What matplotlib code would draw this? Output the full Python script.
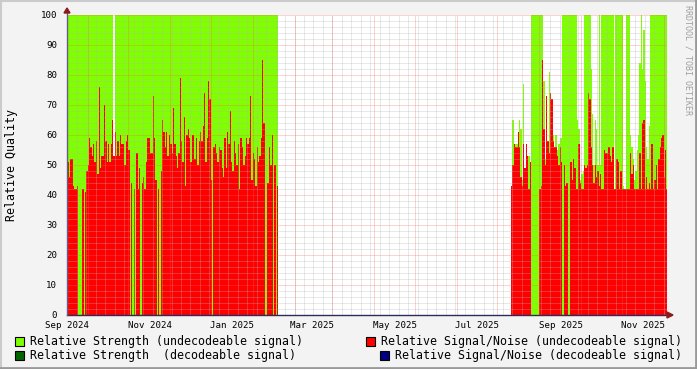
import datetime as dt
import numpy as np
import matplotlib
matplotlib.use("Agg")
import matplotlib.pyplot as plt
import matplotlib.dates as mdates
from matplotlib.patches import Rectangle, Polygon

# daily values, first block starts 2024-09-01
seg1_start = dt.datetime(2024, 9, 1)
seg1_snr = [
    51, 46, 52, 52, 43, 42, 42, 43, 0, 0, 0, 42, 0, 41, 48, 50, 59, 56, 53, 57,
    51, 58, 47, 76, 49, 53, 53, 70, 58, 51, 57, 51, 57, 65, 53, 61, 53, 58, 53, 60,
    57, 57, 50, 58, 60, 55, 0, 44, 0, 42, 0, 54, 42, 49, 0, 44, 46, 42, 51, 59,
    59, 54, 54, 73, 59, 45, 0, 42, 0, 48, 65, 61, 56, 61, 53, 60, 57, 54, 69, 57,
    53, 49, 54, 79, 58, 51, 66, 43, 60, 62, 59, 51, 60, 60, 52, 59, 50, 58, 61, 58,
    63, 74, 51, 59, 78, 72, 45, 0, 56, 57, 54, 51, 56, 55, 49, 46, 59, 49, 61, 57,
    68, 51, 48, 58, 54, 50, 57, 42, 59, 56, 50, 53, 59, 57, 59, 73, 45, 54, 52, 43,
    56, 51, 53, 59, 85, 64, 0, 0, 44, 56, 50, 60, 0, 50, 0, 43,
]
seg1_strength = [
    100, 100, 100, 100, 100, 100, 100, 100, 100, 100, 100, 100, 100, 100, 100, 100, 100, 100, 100, 100,
    100, 100, 100, 100, 100, 100, 100, 100, 100, 100, 100, 100, 100, 100, 0, 100, 100, 100, 100, 100,
    100, 100, 100, 100, 100, 100, 100, 100, 100, 100, 100, 100, 100, 100, 100, 100, 100, 100, 100, 100,
    100, 100, 100, 100, 100, 100, 100, 100, 100, 100, 100, 100, 100, 100, 100, 100, 100, 100, 100, 100,
    100, 100, 100, 100, 100, 100, 100, 100, 100, 100, 100, 100, 100, 100, 100, 100, 100, 100, 100, 100,
    100, 100, 100, 100, 100, 100, 100, 100, 100, 100, 100, 100, 100, 100, 100, 100, 100, 100, 100, 100,
    100, 100, 100, 100, 100, 100, 100, 100, 100, 100, 100, 100, 100, 100, 100, 100, 100, 100, 100, 100,
    100, 100, 100, 100, 100, 100, 100, 100, 100, 100, 100, 100, 100, 100, 100, 100,
]

# second block starts 2025-07-26
seg2_start = dt.datetime(2025, 7, 26)
seg2_snr = [
    43, 50, 57, 56, 56, 61, 56, 46, 43, 57,
    49, 57, 53, 42, 51, 0, 0, 0, 0, 0,
    0, 42, 43, 85, 62, 50, 73, 58, 54, 74,
    72, 58, 56, 56, 53, 50, 56, 51, 0, 50,
    43, 44, 0, 0, 51, 45, 52, 49, 42, 42,
    57, 44, 42, 42, 50, 49, 50, 74, 72, 56,
    50, 44, 50, 46, 48, 43, 47, 42, 42, 55,
    54, 54, 56, 53, 51, 56, 42, 42, 52, 51,
    42, 48, 42, 42, 42, 42, 42, 42, 54, 47,
    50, 42, 42, 42, 42, 54, 42, 64, 65, 42,
    46, 42, 44, 42, 57, 42, 45, 50, 42, 52,
    56, 59, 60, 46, 55, 42,
]
seg2_strength = [
    43, 65, 57, 57, 57, 61, 65, 62, 45, 77,
    49, 57, 53, 53, 51, 100, 100, 100, 100, 100,
    100, 100, 100, 100, 78, 52, 73, 58, 81, 74,
    72, 60, 56, 60, 55, 57, 59, 59, 100, 100,
    100, 100, 100, 100, 100, 100, 100, 100, 100, 65,
    62, 45, 47, 48, 100, 100, 100, 100, 100, 82,
    67, 50, 65, 62, 50, 100, 50, 100, 100, 100,
    100, 100, 100, 100, 100, 100, 42, 100, 100, 100,
    100, 100, 100, 43, 42, 100, 100, 100, 60, 56,
    52, 45, 48, 55, 60, 84, 100, 82, 95, 78,
    56, 52, 63, 100, 100, 100, 100, 100, 100, 100,
    100, 100, 100, 100, 100, 100,
]

tick_dates = [dt.datetime(2024, 9, 1), dt.datetime(2024, 11, 1), dt.datetime(2025, 1, 1),
              dt.datetime(2025, 3, 1), dt.datetime(2025, 5, 1), dt.datetime(2025, 7, 1),
              dt.datetime(2025, 9, 1), dt.datetime(2025, 11, 1)]

legend_items = [
    ("Relative Strength (undecodeable signal)", "#7FFF00", 15, 341),
    ("Relative Signal/Noise (undecodeable signal)", "#FF0000", 366, 341),
    ("Relative Strength  (decodeable signal)", "#006400", 15, 355),
    ("Relative Signal/Noise (decodeable signal)", "#000080", 380, 355),
]

plt.rcParams['font.family'] = 'DejaVu Sans Mono'
W, H = 697, 369

fig = plt.figure(figsize=(W / 100, H / 100), dpi=100, facecolor='#F3F3F3')
ax = fig.add_axes([67 / W, (H - 315) / H, 600 / W, 300 / H])
ax.set_facecolor('white')

for start, strength, snr in [(seg1_start, seg1_strength, seg1_snr),
                             (seg2_start, seg2_strength, seg2_snr)]:
    edges = mdates.date2num(start) + np.arange(len(snr) + 1)
    ax.stairs(strength, edges, fill=True, color='#7FFF00', linewidth=0, zorder=1)
    ax.stairs(snr, edges, fill=True, color='#FF0000', linewidth=0, zorder=1.1)

x0 = mdates.date2num(seg1_start) - 0.3
x1 = x0 + 443.8
ax.set_xlim(x0, x1)
ax.set_ylim(0, 100)

# grid (drawn over the data, like rrdtool)
dots = (0, (1, 1))
minor_c = (0.7, 0.7, 0.7, 0.6)
major_c = (1, 0.36, 0.36, 0.55)
for v in range(2, 101, 2):
    ax.axhline(v, color=major_c if v % 10 == 0 else minor_c, lw=0.72, ls=dots, zorder=2)
wk = mdates.date2num(dt.datetime(2024, 9, 8))
while wk < x1:
    ax.axvline(wk, color=minor_c, lw=0.72, ls=dots, zorder=2)
    wk += 7
d = dt.datetime(2024, 9, 16)
while d < dt.datetime(2025, 12, 1):
    ax.axvline(mdates.date2num(d), color=major_c, lw=0.72, ls=dots, zorder=2.1)
    d = dt.datetime(d.year + (d.month // 12), d.month % 12 + 1, 16)

for s in ax.spines.values():
    s.set_visible(False)

ax.set_yticks(range(0, 101, 10))
ax.set_xticks(mdates.date2num(tick_dates))
ax.set_xticklabels([t.strftime('%b %Y') for t in tick_dates])
ax.tick_params(axis='both', length=0, labelsize=6.6)
ax.tick_params(axis='y', pad=7)
ax.tick_params(axis='x', pad=4)

# axes lines and arrows
ax.plot([0, 1.007], [0, 0], transform=ax.transAxes, color='#2C2C5C', lw=1, clip_on=False, zorder=3)
ax.plot([0, 0], [0, 1.015], transform=ax.transAxes, color='#6A5A8A', lw=1, clip_on=False, zorder=3)
fig.add_artist(Polygon([(667 / W, (H - 312) / H), (667 / W, (H - 318) / H), (673 / W, (H - 315) / H)],
                       closed=True, color='#8B1A1A', transform=fig.transFigure))
fig.add_artist(Polygon([(64 / W, (H - 13) / H), (70 / W, (H - 13) / H), (67 / W, (H - 8) / H)],
                       closed=True, color='#8B1A1A', transform=fig.transFigure))

fig.text(12 / W, (H - 165) / H, 'Relative Quality', rotation=90, ha='center', va='center', fontsize=8.4)
fig.text(688 / W, (H - 60) / H, 'RRDTOOL / TOBI OETIKER', rotation=270, ha='center', va='center',
         fontsize=6, color='#A0A0A0')

for label, color, x, y in legend_items:
    fig.add_artist(Rectangle((x / W, (H - y - 4.5) / H), 9 / W, 9 / H, facecolor=color,
                             edgecolor='black', lw=0.8, transform=fig.transFigure))
    fig.text((x + 15) / W, (H - y) / H, label, ha='left', va='center', fontsize=8.4)

# 3d border
fig.add_artist(plt.Line2D([0, 1], [1 - 1 / H, 1 - 1 / H], color='#CBCBCB', lw=1.5, transform=fig.transFigure))
fig.add_artist(plt.Line2D([1 / W, 1 / W], [0, 1], color='#CBCBCB', lw=1.5, transform=fig.transFigure))
fig.add_artist(plt.Line2D([1 - 1.5 / W, 1 - 1.5 / W], [0, 1], color='#999999', lw=2, transform=fig.transFigure))
fig.add_artist(plt.Line2D([0, 1], [1.5 / H, 1.5 / H], color='#999999', lw=2, transform=fig.transFigure))

fig.savefig('out.png', dpi=100, facecolor=fig.get_facecolor())
